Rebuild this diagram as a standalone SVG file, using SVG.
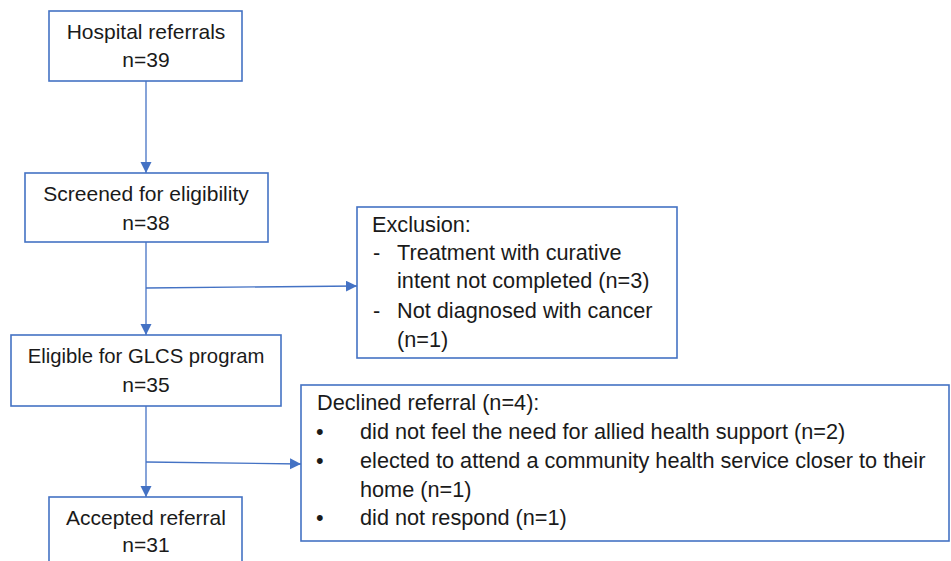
<svg xmlns="http://www.w3.org/2000/svg" width="951" height="561" viewBox="0 0 951 561">
<style>
.box{fill:#fff;stroke:#4472C4;stroke-width:1.6}
.t{font-family:"Liberation Sans",Arial,sans-serif;font-size:21px;fill:#1a1a1a}
.c{text-anchor:middle}
.w{font-size:21.7px}
.ln{stroke:#4472C4;stroke-width:1.3;fill:none}
</style>
<defs>
<marker id="ah" markerUnits="userSpaceOnUse" markerWidth="12" markerHeight="12" refX="11" refY="5.5" orient="auto">
<path d="M0,0 L11,5.5 L0,11 z" fill="#4472C4"/>
</marker>
</defs>
<rect width="951" height="561" fill="#fff"/>
<g id="connectors">
<line class="ln" x1="146" y1="81" x2="146" y2="173" marker-end="url(#ah)"/>
<line class="ln" x1="146" y1="242" x2="146" y2="335" marker-end="url(#ah)"/>
<line class="ln" x1="146" y1="288" x2="357" y2="286" marker-end="url(#ah)"/>
<line class="ln" x1="146" y1="406" x2="146" y2="497" marker-end="url(#ah)"/>
<line class="ln" x1="146" y1="462" x2="301" y2="464" marker-end="url(#ah)"/>
</g>
<g id="hospital">
<rect class="box" x="49" y="11" width="193" height="70"/>
<text class="t c" x="146" y="39">Hospital referrals</text>
<text class="t c" x="146" y="67">n=39</text>
</g>
<g id="screened">
<rect class="box" x="25" y="173" width="243" height="69"/>
<text class="t c" x="146" y="201">Screened for eligibility</text>
<text class="t c" x="146" y="230">n=38</text>
</g>
<g id="exclusion">
<rect class="box" x="357" y="207" width="320" height="151"/>
<text class="t w" x="372" y="232">Exclusion:</text>
<text class="t w" x="373" y="260">-</text>
<text class="t w" x="397" y="260">Treatment with curative</text>
<text class="t w" x="397" y="288">intent not completed (n=3)</text>
<text class="t w" x="373" y="318">-</text>
<text class="t w" x="397" y="318">Not diagnosed with cancer</text>
<text class="t w" x="397" y="347">(n=1)</text>
</g>
<g id="eligible">
<rect class="box" x="11" y="335" width="270" height="71"/>
<text class="t c" x="146" y="363" style="font-size:20.3px">Eligible for GLCS program</text>
<text class="t c" x="146" y="392">n=35</text>
</g>
<g id="declined">
<rect class="box" x="301" y="385" width="648" height="156"/>
<text class="t w" x="317" y="410">Declined referral (n=4):</text>
<text class="t w" x="316" y="439">•</text>
<text class="t w" x="360" y="439">did not feel the need for allied health support (n=2)</text>
<text class="t w" x="316" y="468">•</text>
<text class="t w" x="360" y="468">elected to attend a community health service closer to their</text>
<text class="t w" x="360" y="497">home (n=1)</text>
<text class="t w" x="316" y="525">•</text>
<text class="t w" x="360" y="525">did not respond (n=1)</text>
</g>
<g id="accepted">
<rect class="box" x="49" y="497" width="193" height="80"/>
<text class="t c" x="146" y="525">Accepted referral</text>
<text class="t c" x="146" y="552">n=31</text>
</g>
</svg>
